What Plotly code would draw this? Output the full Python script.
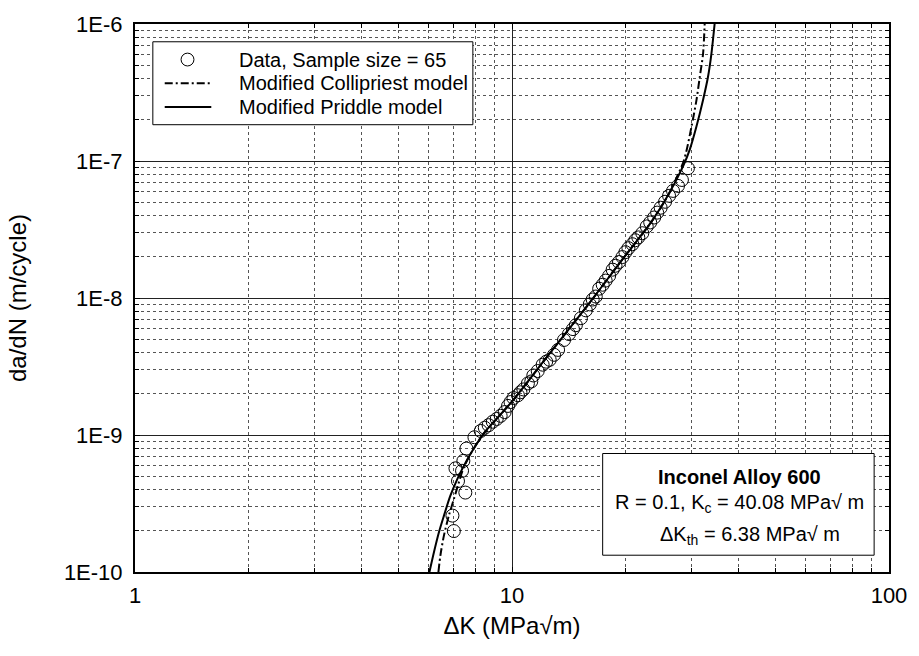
import plotly.graph_objects as go

# Measured fatigue crack growth data (Inconel Alloy 600, R = 0.1)
dk_data = [7.01, 6.95, 7.52, 7.19, 7.08, 7.37, 7.43, 7.57, 7.95, 8.26,
           8.47, 8.67, 8.89, 9.11, 9.33, 9.56, 9.76, 9.91, 10.09, 10.37,
           10.53, 10.72, 11.02, 11.25, 11.39, 11.70, 12.06, 12.32, 12.59, 12.93,
           13.25, 13.74, 14.16, 14.51, 14.77, 15.23, 15.70, 16.08, 16.37, 16.68,
           17.03, 17.40, 17.72, 18.10, 18.49, 18.82, 19.22, 19.63, 19.99, 20.36,
           20.86, 21.24, 21.63, 22.16, 22.77, 23.26, 23.83, 24.27, 24.79, 25.47,
           26.10, 26.74, 27.56, 28.23, 29.28]
rate_data = [1.99e-10, 2.58e-10, 3.80e-10, 4.61e-10, 5.71e-10, 5.48e-10, 6.47e-10, 7.96e-10, 9.63e-10, 1.07e-9,
             1.13e-9, 1.18e-9, 1.25e-9, 1.31e-9, 1.38e-9, 1.47e-9, 1.63e-9, 1.74e-9, 1.86e-9, 1.95e-9,
             2.05e-9, 2.15e-9, 2.38e-9, 2.46e-9, 2.72e-9, 2.93e-9, 3.26e-9, 3.43e-9, 3.54e-9, 3.85e-9,
             4.18e-9, 4.94e-9, 5.46e-9, 5.93e-9, 6.33e-9, 7.12e-9, 8.13e-9, 8.98e-9, 9.75e-9, 1.025e-8,
             1.17e-8, 1.25e-8, 1.34e-8, 1.45e-8, 1.61e-8, 1.72e-8, 1.83e-8, 1.99e-8, 2.16e-8, 2.31e-8,
             2.47e-8, 2.64e-8, 2.77e-8, 2.97e-8, 3.33e-8, 3.56e-8, 3.87e-8, 4.20e-8, 4.56e-8, 5.04e-8,
             5.57e-8, 6.05e-8, 6.58e-8, 7.27e-8, 8.86e-8]

# Modified Collipriest model curve
collip_dk = [6.38, 6.46, 6.60, 6.80, 7.01, 7.20, 7.44, 7.83, 8.40, 9.11, 10.07, 12.83,
             16.02, 19.20, 23.50, 25.98, 28.46, 29.05, 29.94, 30.86, 31.48, 32.12, 32.44]
collip_rate = [1.00e-10, 1.33e-10, 1.85e-10, 2.58e-10, 3.40e-10, 4.35e-10, 5.75e-10, 7.57e-10,
               1.02e-9, 1.316e-9, 1.795e-9, 4.21e-9, 9.13e-9, 1.77e-8, 3.64e-8, 5.66e-8,
               9.79e-8, 1.20e-7, 1.79e-7, 2.79e-7, 4.10e-7, 6.05e-7, 1.00e-6]

# Modified Priddle model curve
priddle_dk = [6.04, 6.21, 6.40, 6.60, 6.86, 7.15, 7.44, 7.83, 8.40, 9.11, 10.07, 12.83,
              16.02, 19.20, 23.50, 25.98, 28.46, 29.63, 30.86, 32.12, 33.10, 33.80, 34.47]
priddle_rate = [1.00e-10, 1.40e-10, 1.95e-10, 2.58e-10, 3.59e-10, 4.73e-10, 5.90e-10, 7.57e-10,
                1.02e-9, 1.316e-9, 1.795e-9, 4.21e-9, 9.13e-9, 1.77e-8, 3.64e-8, 5.66e-8,
                9.21e-8, 1.215e-7, 1.79e-7, 2.79e-7, 4.10e-7, 6.05e-7, 1.00e-6]

series_names = ["Data, Sample size = 65", "Modified Collipriest model", "Modified Priddle model"]

y_tickvals = [1e-10, 1e-9, 1e-8, 1e-7, 1e-6]
y_ticktext = ["1E-10", "1E-9", "1E-8", "1E-7", "1E-6"]
x_tickvals = [1, 10, 100]
x_ticktext = ["1", "10", "100"]

FONT = "Liberation Sans, Arial, Helvetica, sans-serif"
COLLIP_DASH = "8px,3px,2px,3px"

W, H = 919, 656
ML, MR, MT, MB = 135, 23, 17, 84
PW, PH = W - ML - MR, H - MT - MB


def px(x):
    """Page x pixel -> paper fraction."""
    return (x - ML) / PW


def py(y):
    """Page y pixel (from top) -> paper fraction."""
    return (H - MB - y) / PH


fig = go.Figure()
fig.add_trace(go.Scatter(
    x=dk_data, y=rate_data, mode="markers", name=series_names[0], showlegend=False,
    marker=dict(symbol="circle-open", size=13, color="black", line=dict(width=1, color="black")),
))
fig.add_trace(go.Scatter(
    x=collip_dk, y=collip_rate, mode="lines", name=series_names[1], showlegend=False,
    line=dict(color="black", width=2, dash=COLLIP_DASH, shape="spline", smoothing=0.8),
))
fig.add_trace(go.Scatter(
    x=priddle_dk, y=priddle_rate, mode="lines", name=series_names[2], showlegend=False,
    line=dict(color="black", width=2, shape="spline", smoothing=0.8),
))

axis_common = dict(
    type="log", showline=True, linewidth=2, linecolor="black", mirror="ticks",
    ticks="inside", ticklen=5, tickcolor="black", tickwidth=1,
    showgrid=True, gridcolor="#222222", gridwidth=1, zeroline=False,
    tickfont=dict(size=22, family=FONT, color="black"),
    minor=dict(dtick="D1", showgrid=True, gridcolor="#555555", griddash="dot", gridwidth=1,
               ticks="inside", ticklen=4, tickcolor="black"),
)

fig.update_xaxes(
    **axis_common, range=[0, 2], tickmode="array", tickvals=x_tickvals, ticktext=x_ticktext,
    ticklabelstandoff=3,
    title=dict(text="ΔK (MPa√m)", font=dict(size=24, family=FONT, color="black"), standoff=10),
)
fig.update_yaxes(
    **axis_common, range=[-10, -6], tickmode="array", tickvals=y_tickvals, ticktext=y_ticktext,
    ticklabelstandoff=6,
    title=dict(text="da/dN (m/cycle)", font=dict(size=24, family=FONT, color="black"), standoff=30),
)

# Legend box (top left)
leg_font = dict(size=20, family=FONT, color="black")
fig.add_shape(type="rect", xref="paper", yref="paper", x0=px(153), x1=px(476), y0=py(119), y1=py(35),
              line=dict(color="black", width=1), fillcolor="white", layer="above")
fig.add_shape(type="circle", xref="paper", yref="paper", x0=px(181.5), x1=px(194.5), y0=py(59.5), y1=py(46.5),
              line=dict(color="black", width=1), layer="above")
fig.add_shape(type="line", xref="paper", yref="paper", x0=px(165), x1=px(212), y0=py(77), y1=py(77),
              line=dict(color="black", width=2, dash=COLLIP_DASH), layer="above")
fig.add_shape(type="line", xref="paper", yref="paper", x0=px(165), x1=px(212), y0=py(101), y1=py(101),
              line=dict(color="black", width=2), layer="above")
for name, row_y in zip(series_names, [53, 77, 101]):
    fig.add_annotation(xref="paper", yref="paper", x=px(238), y=py(row_y), xanchor="left", yanchor="middle",
                       showarrow=False, text=name, font=leg_font)

# Material / model parameter box (bottom right)
fig.add_shape(type="rect", xref="paper", yref="paper", x0=px(607), x1=px(881), y0=py(555), y1=py(452),
              line=dict(color="black", width=1), fillcolor="white", layer="above")
box_font = dict(size=20, family=FONT, color="black")
fig.add_annotation(xref="paper", yref="paper", x=px(745), y=py(476), xanchor="center", yanchor="middle",
                   showarrow=False, text="<b>Inconel Alloy 600</b>", font=box_font)
fig.add_annotation(xref="paper", yref="paper", x=px(745), y=py(503), xanchor="center", yanchor="middle",
                   showarrow=False, text="R = 0.1, K<sub>c</sub> = 40.08 MPa√ m", font=box_font)
fig.add_annotation(xref="paper", yref="paper", x=px(756), y=py(535), xanchor="center", yanchor="middle",
                   showarrow=False, text="ΔK<sub>th</sub> = 6.38 MPa√ m", font=box_font)

fig.update_layout(
    width=W, height=H,
    margin=dict(l=ML, r=MR, t=MT, b=MB),
    plot_bgcolor="white", paper_bgcolor="white",
    font=dict(family=FONT, color="black"),
    showlegend=False,
)

fig.write_html("out.html")
